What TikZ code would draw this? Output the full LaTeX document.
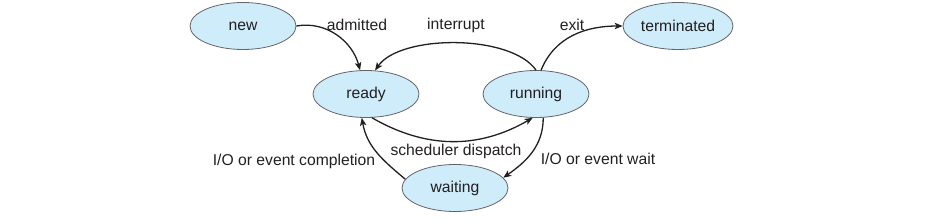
\documentclass[tikz,border=0pt]{standalone}
\usepackage{fontspec}
\setmainfont{Liberation Sans}
\usepackage{tikz}
\usetikzlibrary{arrows.meta,shapes.geometric}
\definecolor{procfill}{RGB}{206,236,250}
\definecolor{procline}{RGB}{100,100,104}
\definecolor{ink}{RGB}{35,31,32}

\begin{document}
\begin{tikzpicture}[x=1pt,y=-1pt,
    proc/.style={ellipse,draw=procline,line width=0.8pt,fill=procfill,inner sep=0pt,
      minimum width=106pt,minimum height=47pt,text=ink},
    lbl/.style={text=ink},
    arr/.style={ink,line width=1.3pt,-{Stealth[length=8pt,width=6.5pt,inset=2pt]}},
    every node/.style={font=\fontsize{15.7}{18}\selectfont}]
  \useasboundingbox (0,0) rectangle (940,221);
  % states
  \node[proc] (new) at (243,26) {new};
  \node[proc] (ready) at (366,94) {ready};
  \node[proc] (running) at (536,94) {running};
  \node[proc] (waiting) at (455,188) {waiting};
  \node[proc,minimum width=110pt] (terminated) at (678,26) {terminated};
  % transitions
  \draw[arr] (new.east) to[out=10,in=105] (ready.104);
  \draw[arr] (running.90) to[out=125,in=55,looseness=0.7] (ready.69);
  \draw[arr] (running.78) to[out=68,in=180] (terminated.west);
  \draw[arr] (ready.-76) to[out=-30,in=-150] (running.-98);
  \draw[arr] (running.-73) to[out=-90,in=35] (waiting.12);
  \draw[arr] (waiting.170) to[out=140,in=-80] (ready.-100);
  % labels
  \node[lbl] (admitted) at (357,25) {admitted};
  \node[lbl] (interrupt) at (456,25) {interrupt};
  \node[lbl] (exit) at (572,25) {exit};
  \node[lbl] (dispatch) at (456,151) {scheduler dispatch};
  \node[lbl] (iowait) at (598,159) {I/O or event wait};
  \node[lbl] (iodone) at (294,161) {I/O or event completion};
\end{tikzpicture}
\end{document}
